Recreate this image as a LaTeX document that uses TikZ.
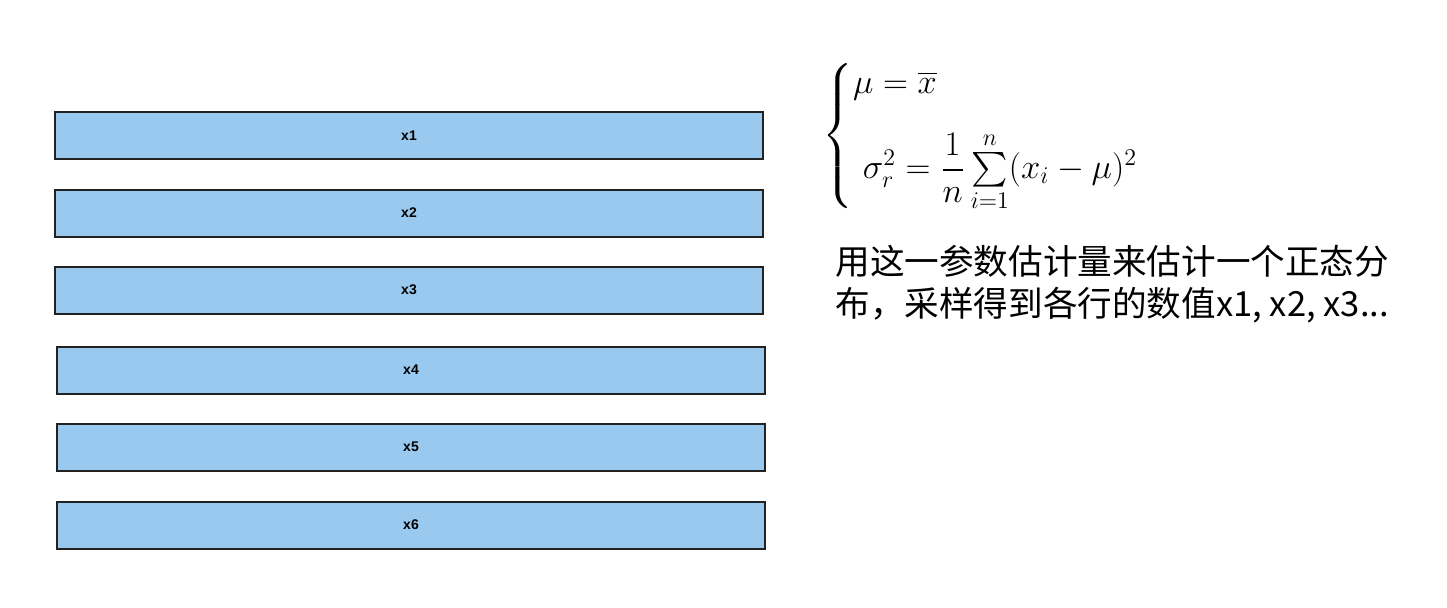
\documentclass[tikz,border=0pt]{standalone}
\usepackage{amsmath}
\usepackage{fontspec}
\setmainfont{Liberation Sans}
\newfontfamily\cjk{Noto Sans CJK SC}
\definecolor{barblue}{HTML}{99C9EE}
\definecolor{barline}{HTML}{222222}

\begin{document}
\begin{tikzpicture}[
  x=0.5pt, y=-0.5pt,
  bar/.style={draw=barline, fill=barblue, line width=1pt,
    minimum width=354pt, minimum height=23.5pt, inner sep=0pt,
    font=\fontsize{7}{8}\selectfont\bfseries},
  note/.style={font=\cjk\fontsize{17.3}{21}\selectfont, align=left,
    inner sep=0pt},
  formula/.style={font=\fontsize{17.5}{20}\selectfont, inner sep=0pt}
]
  \useasboundingbox (0,0) rectangle (1447,607);

  %% ============================================ the sampled rows
  \node[bar] (row1) at (409,135.5) {x1};
  \node[bar] (row2) at (409,213) {x2};
  \node[bar] (row3) at (409,290) {x3};
  \node[bar] (row4) at (411,370) {x4};
  \node[bar] (row5) at (411,447) {x5};
  \node[bar] (row6) at (411,525) {x6};

  %% ============================================ the estimator
  \node[formula, anchor=west] (est) at (822,136)
    {$\begin{cases}
       \mu = \overline{x}\\[12pt]
       \ \sigma_r^2 = \dfrac{1}{n}\sum\limits_{i=1}^{n}(x_i-\mu)^2
     \end{cases}$};

  %% ============================================ the explanation
  \node[note, anchor=north west] (txt) at (835,245)
    {用这一参数估计量来估计一个正态分\\布，采样得到各行的数值x1, x2, x3...};

\end{tikzpicture}
\end{document}
